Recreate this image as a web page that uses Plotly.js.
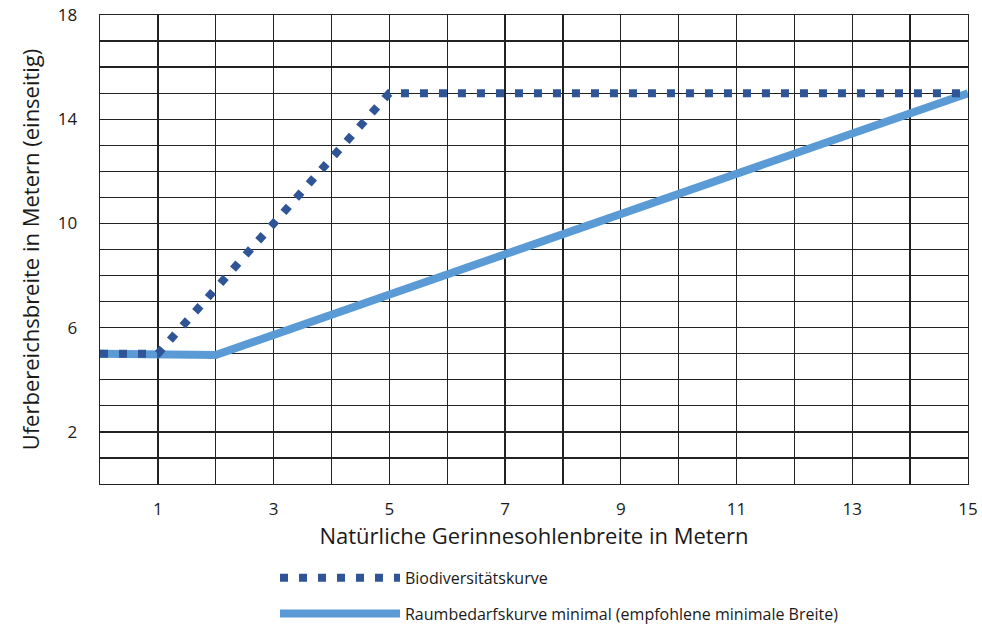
<!DOCTYPE html>
<html><head><meta charset="utf-8">
<script src="https://cdn.plot.ly/plotly-3.0.1.min.js"></script>
<style>html,body{margin:0;padding:0;background:#fff}</style>
</head><body><div id="chart" style="width:982px;height:627px"></div>
<script>
const bioX = [0, 1, 5, 15];
const bioY = [5, 5, 15, 15];
const raumX = [0, 1, 2, 15];
const raumY = [5, 5, 4.95, 15];
const xTickVals = [0,1,2,3,4,5,6,7,8,9,10,11,12,13,14,15];
const xTickText = ['','1','','3','','5','','7','','9','','11','','13','','15'];
const yTickVals = [0,1,2,3,4,5,6,7,8,9,10,11,12,13,14,15,16,17,18];
const yTickText = ['','','2','','','','6','','','','10','','','','14','','','','18'];
const names = ['Biodiversitätskurve', 'Raumbedarfskurve minimal (empfohlene minimale Breite)'];

const font = '"Open Sans", sans-serif';
const traces = [
  {x: raumX, y: raumY, name: names[1], legendgroup: 'b', legendrank: 2, mode: 'lines', line: {color: '#5B9BD5', width: 8}},
  {x: bioX, y: bioY, name: names[0], legendgroup: 'a', legendrank: 1, mode: 'lines', line: {color: '#2F5597', width: 8, dash: '8px,11px'}}
];
const layout = {
  width: 982, height: 627,
  margin: {l: 100, r: 14, t: 15, b: 143, autoexpand: false},
  paper_bgcolor: '#fff', plot_bgcolor: '#fff',
  font: {family: font, color: '#1a1a1a'},
  showlegend: true,
  legend: {orientation: 'v', x: 0.2016, y: -0.164,
    xanchor: 'left', yanchor: 'top', traceorder: 'grouped',
    itemwidth: 120, font: {size: 16, family: font}, tracegroupgap: 12},
  xaxis: {range: [0, 15], tickvals: xTickVals, ticktext: xTickText, showgrid: true,
    gridcolor: '#222', gridwidth: 1.3, showline: true, linecolor: '#222', linewidth: 1.3, mirror: true,
    zeroline: false, ticks: '', tickfont: {size: 17}, ticklabelstandoff: 9,
    title: {text: 'Natürliche Gerinnesohlenbreite in Metern', font: {size: 22}, standoff: 2}},
  yaxis: {range: [0, 18], tickvals: yTickVals, ticktext: yTickText, showgrid: true,
    gridcolor: '#222', gridwidth: 1.3, showline: true, linecolor: '#222', linewidth: 1.3, mirror: true,
    zeroline: false, ticks: '', tickfont: {size: 17}, ticklabelstandoff: 18,
    title: {text: 'Uferbereichsbreite in Metern (einseitig)', font: {size: 22}, standoff: 12}}
};
Plotly.newPlot('chart', traces, layout, {displayModeBar: false, staticPlot: true});
</script></body></html>
